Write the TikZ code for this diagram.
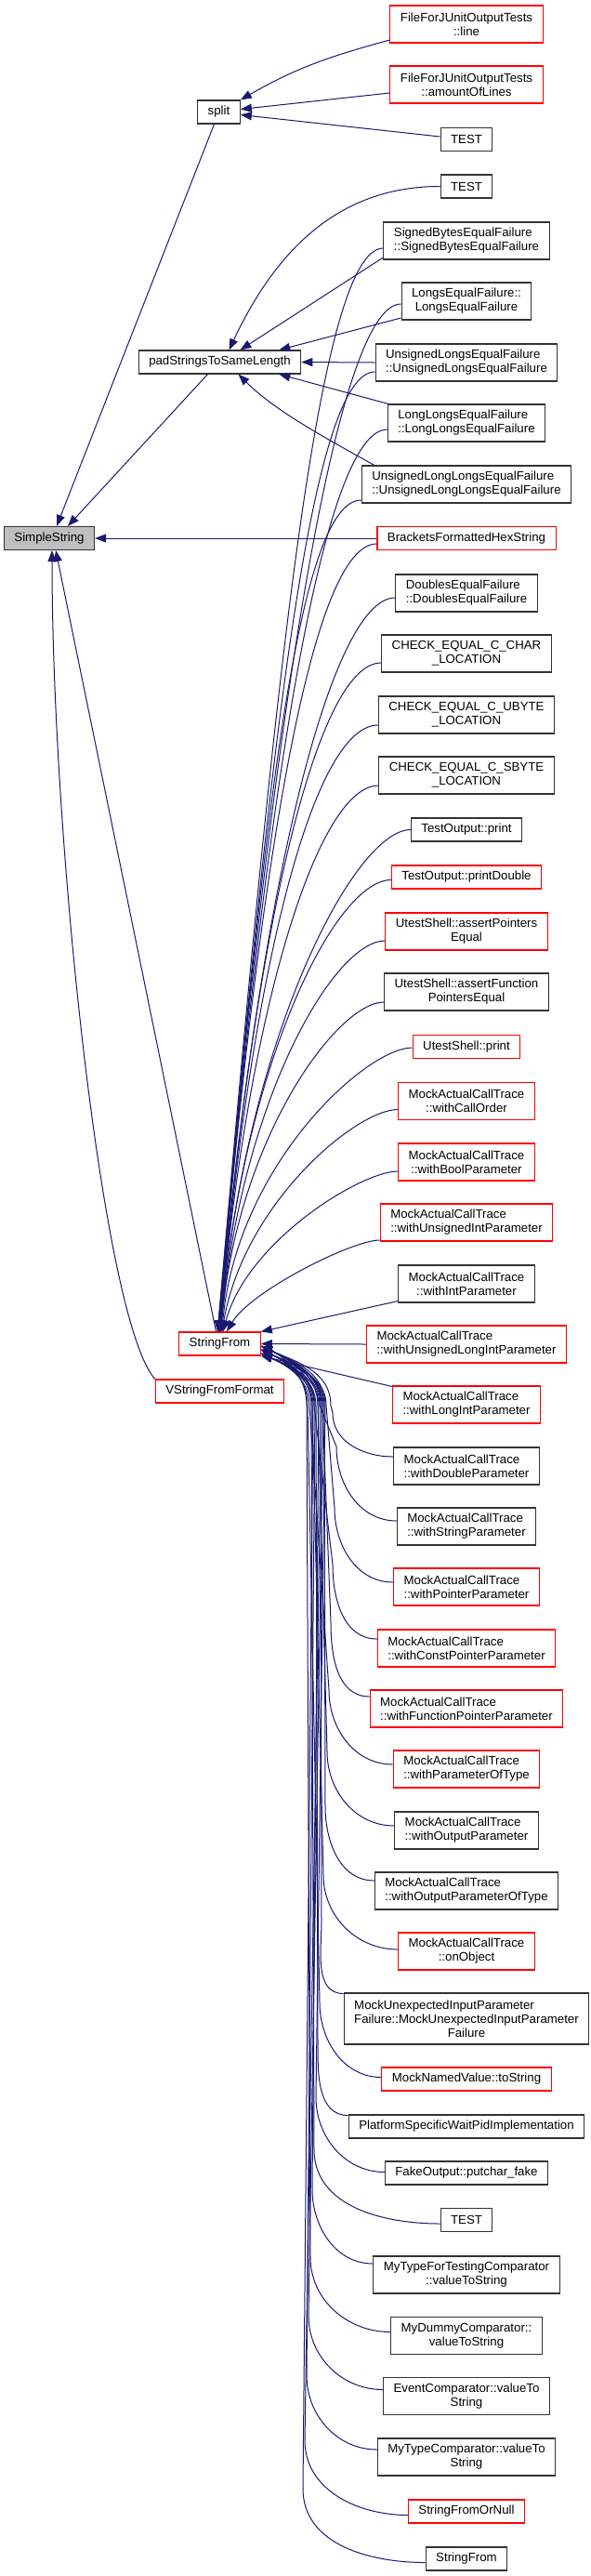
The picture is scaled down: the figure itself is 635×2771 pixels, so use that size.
\documentclass[tikz,border=0pt]{standalone}
\usepackage{fontspec}
\setmainfont{Liberation Sans}
\usetikzlibrary{arrows.meta}
\definecolor{calledge}{HTML}{191970}
\definecolor{callred}{HTML}{FF0000}
\tikzset{
	fnbox/.style={draw=black!80, line width=1.1pt, align=center, inner xsep=11pt, inner ysep=1pt, minimum height=25pt, font=\fontsize{13.25}{15}\selectfont},
	fnbox2/.style={fnbox, minimum height=40pt},
	fnbox3/.style={fnbox, minimum height=55pt},
	leftlbl/.style={align=left},
	hot/.style={draw=callred},
	rootbox/.style={fnbox, fill=black!25},
	callarrow/.style={-{Triangle[length=12pt, width=9pt]}, color=calledge, line width=1pt}
}

\begin{document}
\begin{tikzpicture}[x=1pt, y=-1pt]
	\useasboundingbox (0,0) rectangle (635,2771);
	
	% callees, left and middle
	\node[rootbox] (simplestr) at (53,579) {SimpleString};
	\node[fnbox] (split) at (235.5,120.5) {split};
	\node[fnbox] (padlen) at (236.5,389.5) {padStringsToSameLength};
	\node[fnbox, hot] (strfrom) at (236.5,1445.5) {StringFrom};
	\node[fnbox, hot] (vstrfmt) at (236.5,1496.5) {VStringFromFormat};
	
	% callers, right column
	\node[fnbox2, hot] (junitline) at (502,26) {FileForJUnitOutputTests\\::line};
	\node[fnbox2, hot] (junitlines) at (502,91) {FileForJUnitOutputTests\\::amountOfLines};
	\node[fnbox] (testsplit) at (502,150) {TEST};
	\node[fnbox] (testpad) at (502,200.5) {TEST};
	\node[fnbox2, leftlbl] (sbytes) at (502,259) {SignedBytesEqualFailure\\::SignedBytesEqualFailure};
	\node[fnbox2] (longs) at (502,324) {LongsEqualFailure::\\LongsEqualFailure};
	\node[fnbox2, leftlbl] (ulongs) at (502,390) {UnsignedLongsEqualFailure\\::UnsignedLongsEqualFailure};
	\node[fnbox2, leftlbl] (llongs) at (502,455) {LongLongsEqualFailure\\::LongLongsEqualFailure};
	\node[fnbox2, leftlbl] (ullongs) at (502,521) {UnsignedLongLongsEqualFailure\\::UnsignedLongLongsEqualFailure};
	\node[fnbox, hot] (hexstr) at (502,579) {BracketsFormattedHexString};
	\node[fnbox2, leftlbl] (doubles) at (502,638) {DoublesEqualFailure\\::DoublesEqualFailure};
	\node[fnbox2] (cchar) at (502,703) {CHECK\_EQUAL\_C\_CHAR\\\_LOCATION};
	\node[fnbox2] (cubyte) at (502,769) {CHECK\_EQUAL\_C\_UBYTE\\\_LOCATION};
	\node[fnbox2] (csbyte) at (502,834) {CHECK\_EQUAL\_C\_SBYTE\\\_LOCATION};
	\node[fnbox] (outprint) at (502,892.5) {TestOutput::print};
	\node[fnbox, hot] (outdouble) at (502,943.5) {TestOutput::printDouble};
	\node[fnbox2, hot] (assertptr) at (502,1002) {UtestShell::assertPointers\\Equal};
	\node[fnbox2] (assertfptr) at (502,1067) {UtestShell::assertFunction\\PointersEqual};
	\node[fnbox, hot] (shellprint) at (502,1126) {UtestShell::print};
	\node[fnbox2, hot] (callorder) at (502,1184.5) {MockActualCallTrace\\::withCallOrder};
	\node[fnbox2, hot] (boolpar) at (502,1250) {MockActualCallTrace\\::withBoolParameter};
	\node[fnbox2, hot, leftlbl] (uintpar) at (502,1315) {MockActualCallTrace\\::withUnsignedIntParameter};
	\node[fnbox2] (intpar) at (502,1381) {MockActualCallTrace\\::withIntParameter};
	\node[fnbox2, hot, leftlbl] (ulintpar) at (502,1446) {MockActualCallTrace\\::withUnsignedLongIntParameter};
	\node[fnbox2, hot, leftlbl] (lintpar) at (502,1511) {MockActualCallTrace\\::withLongIntParameter};
	\node[fnbox2, leftlbl] (doublepar) at (502,1577) {MockActualCallTrace\\::withDoubleParameter};
	\node[fnbox2, leftlbl] (stringpar) at (502,1642) {MockActualCallTrace\\::withStringParameter};
	\node[fnbox2, hot, leftlbl] (ptrpar) at (502,1707) {MockActualCallTrace\\::withPointerParameter};
	\node[fnbox2, hot, leftlbl] (cptrpar) at (502,1773) {MockActualCallTrace\\::withConstPointerParameter};
	\node[fnbox2, hot, leftlbl] (fptrpar) at (502,1838) {MockActualCallTrace\\::withFunctionPointerParameter};
	\node[fnbox2, hot, leftlbl] (typepar) at (502,1903) {MockActualCallTrace\\::withParameterOfType};
	\node[fnbox2, leftlbl] (outpar) at (502,1969) {MockActualCallTrace\\::withOutputParameter};
	\node[fnbox2, leftlbl] (outtypepar) at (502,2034) {MockActualCallTrace\\::withOutputParameterOfType};
	\node[fnbox2, hot] (onobject) at (502,2099) {MockActualCallTrace\\::onObject};
	\node[fnbox3] (unexpected) at (502,2171.5) {\rlap{MockUnexpectedInputParameter}\hphantom{Failure::MockUnexpectedInputParameter}\\Failure::MockUnexpectedInputParameter\\Failure};
	\node[fnbox, hot] (namedval) at (502,2236.5) {MockNamedValue::toString};
	\node[fnbox] (waitpid) at (502,2287.5) {PlatformSpecificWaitPidImplementation};
	\node[fnbox] (putchar) at (502,2337.5) {FakeOutput::putchar\_fake};
	\node[fnbox] (testfrom) at (502,2388) {TEST};
	\node[fnbox2] (mytypetest) at (502,2447) {MyTypeForTestingComparator\\::valueToString};
	\node[fnbox2] (mydummy) at (502,2512.5) {MyDummyComparator::\\valueToString};
	\node[fnbox2] (eventcmp) at (502,2577.5) {EventComparator::valueTo\\String};
	\node[fnbox2] (mytypecmp) at (502,2643) {MyTypeComparator::valueTo\\String};
	\node[fnbox, hot] (fromornull) at (502,2701.5) {StringFromOrNull};
	\node[fnbox] (strfromb) at (502,2752.5) {StringFrom};
	
	% into SimpleString
	\draw[callarrow] ([xshift=-5pt]split.south) -- ([xshift=8pt]simplestr.north);
	\draw[callarrow] ([xshift=-13pt]padlen.south) -- ([xshift=20pt]simplestr.north);
	\draw[callarrow] (hexstr.west) -- (simplestr.east);
	\draw[callarrow] ([xshift=-4pt]strfrom.north) -- ([xshift=7pt]simplestr.south);
	\draw[callarrow] (vstrfmt.north west) .. controls +(-57,-64) and +(0,308) .. ([xshift=3pt]simplestr.south);
	
	% into split
	\draw[callarrow] ([yshift=-17pt]junitline.west) .. controls +(-66,18) and +(59,-34) .. (split.north east);
	\draw[callarrow] ([yshift=-9pt]junitlines.west) -- ([yshift=3pt]split.east);
	\draw[callarrow] ([yshift=3pt]testsplit.west) -- ([yshift=-3pt]split.east);
	
	% into padStringsToSameLength
	\draw[callarrow] (testpad.west) .. controls +(-113,0) and +(48,-102) .. ([xshift=10pt]padlen.north);
	\draw[callarrow] ([yshift=-18pt]sbytes.west) -- ([xshift=22pt]padlen.north);
	\draw[callarrow] ([yshift=-18pt]longs.west) -- ([xshift=-24pt]padlen.north east);
	\draw[callarrow] (ulongs.west) -- (padlen.east);
	\draw[callarrow] ([xshift=1pt]llongs.north west) -- ([xshift=-24pt]padlen.south east);
	\draw[callarrow] ([xshift=14pt]ullongs.north west) .. controls +(-50,-28) and +(40,40) .. ([xshift=20pt]padlen.south);
	
	% into StringFrom, callers above it
	\foreach \n/\dy/\od/\cx/\cy/\an in {sbytes/-8/70/61/-697/100, longs/-3/70/58/-657/100,
		ulongs/-10/70/54/-618/97, llongs/-7/70/51/-578/97, ullongs/-17/70/47/-538/95,
		hexstr/-6/70/44/-508/95, doubles/-5/70/41/-468/92, cchar/-10/70/37/-428/92,
		cubyte/-11/70/34/-389/90, csbyte/-11/65/31/-349/90, outprint/0/60/28/-319/88,
		outdouble/-3/60/25/-289/88, assertptr/-10/55/22/-249/85, assertfptr/-11/50/18/-209/85,
		shellprint/-1/50/16/-179/80, callorder/-9/45/24/-138/80, boolpar/-10/40/26/-97/75,
		uintpar/-19/30/25/-43/60}
		\draw[callarrow] ([yshift=\dy pt]\n.west) .. controls +(-\od,0) and +(\cx,\cy) .. (strfrom.\an);
	\draw[callarrow] ([yshift=2pt]intpar.south west) -- (strfrom.north east);
	\draw[callarrow] (ulintpar.west) -- (strfrom.east);
	\draw[callarrow] ([yshift=-1pt]lintpar.north west) -- (strfrom.south east);
	
	% into StringFrom, callers below it
	\foreach \n/\dy/\xv/\yb/\xt/\an in {doublepar/10/358/1520/356/357, stringpar/6/362/1556/344/352,
		ptrpar/5/360/1622/351/347, cptrpar/10/358/1683/338/357, fptrpar/13/356/1745/347/352,
		typepar/5/354/1818/333/347, outpar/5/352/1884/342/357, outtypepar/11/350/1943/349/352,
		onobject/2/348/2017/336/347, unexpected/27/346/2066/345/357, namedval/2/344/2154/331/352,
		waitpid/12/342/2195/340/347, putchar/1/340/2256/350/357, testfrom/-4/338/2312/335/352,
		mytypetest/12/336/2355/343/347, mydummy/4/334/2428/330/357, eventcmp/7/332/2491/348/352,
		mytypecmp/8/330/2555/339/347, fromornull/-4/328/2625/346/357, strfromb/-4/326/2677/337/352}
		\draw[callarrow] ([yshift=\dy pt]\n.west) to[out=180, in=-90] (\xv,\yb) -- (\xt,1512) to[out=90, in=-25] (strfrom.\an);
\end{tikzpicture}
\end{document}
